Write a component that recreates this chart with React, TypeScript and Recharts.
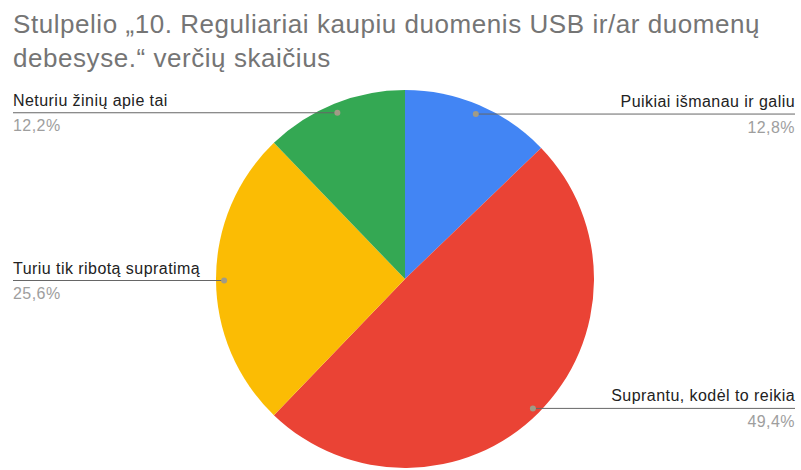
import React from 'react';
import { PieChart, Pie, Cell } from 'recharts';

const categories = [
  'Puikiai išmanau ir galiu',
  'Suprantu, kodėl to reikia',
  'Turiu tik ribotą supratimą',
  'Neturiu žinių apie tai',
];
const shares = [12.8, 49.4, 25.6, 12.2];
const colors = ['#4285F4', '#EA4335', '#FBBC04', '#34A853'];
const titleLines = [
  'Stulpelio „10. Reguliariai kaupiu duomenis USB ir/ar duomenų',
  'debesyse.“ verčių skaičius',
];

const data = categories.map((name, i) => ({ name, value: shares[i] }));
const RAD = Math.PI / 180;
const FONT = '"Liberation Sans", Arial, sans-serif';

const renderLabel = (props: any) => {
  const { cx, cy, midAngle, outerRadius, index, percent } = props;
  const r = outerRadius * 0.957;
  const x = cx + r * Math.cos(-midAngle * RAD);
  const y = cy + r * Math.sin(-midAngle * RAD) + 1.5;
  const right = x > cx;
  const endX = right ? 795 : 13;
  const pct = (percent * 100).toFixed(1).replace('.', ',') + '%';
  return (
    <g key={`lbl-${index}`}>
      <line x1={x} y1={y} x2={endX} y2={y} stroke="#666" strokeWidth={1} />
      <circle cx={x} cy={y} r={3} fill="#a19b86" />
      <text
        x={endX}
        y={y - 7}
        textAnchor={right ? 'end' : 'start'}
        fontFamily={FONT}
        fontSize={16}
        letterSpacing={0.45}
        fill="#222"
      >
        {data[index].name}
      </text>
      <text
        x={endX}
        y={y + 18.5}
        textAnchor={right ? 'end' : 'start'}
        fontFamily={FONT}
        fontSize={16}
        letterSpacing={0.45}
        fill="#9e9e9e"
      >
        {pct}
      </text>
    </g>
  );
};

export default function App() {
  return (
    <div style={{ position: 'absolute', left: 0, top: 0, width: 801, height: 470, background: '#fff', overflow: 'hidden' }}>
      <PieChart width={801} height={470} margin={{ top: 0, right: 0, bottom: 0, left: 0 }} style={{ position: 'absolute', left: 0, top: 0 }}>
        <Pie
          data={data}
          dataKey="value"
          nameKey="name"
          cx={405}
          cy={279}
          outerRadius={189}
          startAngle={90}
          endAngle={-270}
          stroke="none"
          label={renderLabel}
          labelLine={false}
          isAnimationActive={false}
        >
          {data.map((d, i) => (
            <Cell key={d.name} fill={colors[i]} />
          ))}
        </Pie>
      </PieChart>
      <svg width={801} height={80} style={{ position: 'absolute', left: 0, top: 0 }}>
        {titleLines.map((t, i) => (
          <text
            key={i}
            x={13}
            y={33 + i * 33.5}
            fontFamily={FONT}
            fontSize={26}
            letterSpacing={0.55}
            fill="#757575"
          >
            {t}
          </text>
        ))}
      </svg>
    </div>
  );
}
